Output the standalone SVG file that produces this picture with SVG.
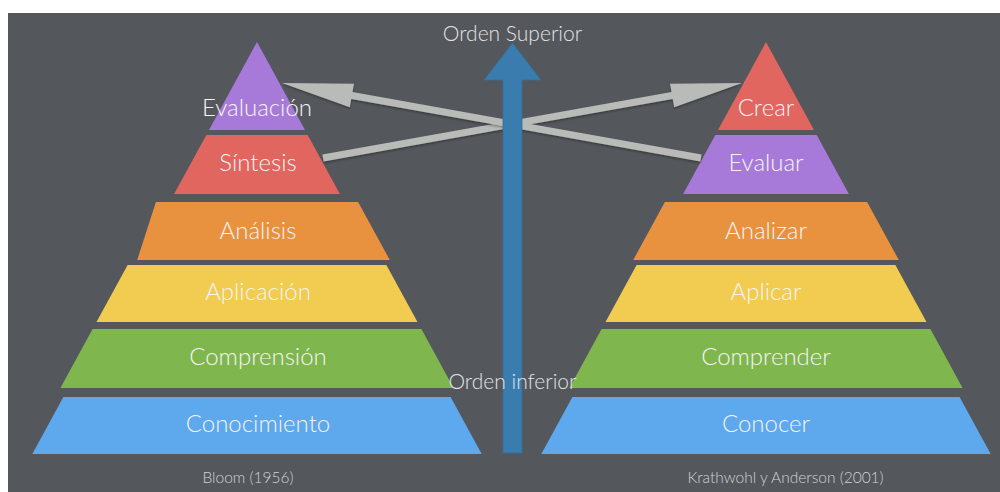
<svg xmlns="http://www.w3.org/2000/svg" width="1000" height="492" viewBox="0 0 1000 492">
  <defs>
    <filter id="sh" x="-10%" y="-50%" width="120%" height="200%">
      <feDropShadow dx="0" dy="1.5" stdDeviation="1" flood-color="#000" flood-opacity="0.35"/>
    </filter>
    <style>
      .lbl { font-family: Lato, "Open Sans", "Liberation Sans", sans-serif; font-weight: 300; font-size: 24px; fill: #f4f4f4; text-anchor: middle; }
      .cap { font-family: Lato, "Open Sans", "Liberation Sans", sans-serif; font-weight: 300; font-size: 15.5px; fill: #d2d3d5; text-anchor: middle; }
      .axis { font-family: Lato, "Open Sans", "Liberation Sans", sans-serif; font-weight: 300; font-size: 21px; fill: #e2e3e5; text-anchor: middle; }
      .purple { fill: #a77ad9; }
      .red { fill: #e0665f; }
      .orange { fill: #e8913f; }
      .yellow { fill: #f1cc50; }
      .green { fill: #80b64e; }
      .blue { fill: #5ea8ee; }
      .gray { fill: #b9bbb9; filter: url(#sh); }
    </style>
  </defs>
  <rect x="0" y="0" width="1000" height="492" fill="#ffffff"/>
  <rect x="8" y="13" width="992" height="479" fill="#54575c"/>

  <!-- Left pyramid: Bloom -->
  <g id="bloom-evaluacion"><polygon class="purple" points="257,42 305,130 209,130"/><text class="lbl" x="257" y="116">Evaluación</text></g>
  <g id="bloom-sintesis"><polygon class="red" points="206.3,135 307.7,135 339.9,194 174.1,194"/><text class="lbl" x="258" y="171">Síntesis</text></g>
  <g id="bloom-analisis"><polygon class="orange" points="155.9,202 358.1,202 389.8,260 137.2,260"/><text class="lbl" x="258" y="239">Análisis</text></g>
  <g id="bloom-aplicacion"><polygon class="yellow" points="127.6,265 386.4,265 417.5,322 96.5,322"/><text class="lbl" x="258" y="300">Aplicación</text></g>
  <g id="bloom-comprension"><polygon class="green" points="92.6,329 421.4,329 453.6,388 60.4,388"/><text class="lbl" x="258" y="365">Comprensión</text></g>
  <g id="bloom-conocimiento"><polygon class="blue" points="63.4,397 450.6,397 481.7,454 32.3,454"/><text class="lbl" x="258" y="432">Conocimiento</text></g>
  <g id="bloom-caption"><text class="cap" x="248" y="483">Bloom (1956)</text></g>

  <!-- Right pyramid: Krathwohl y Anderson -->
  <g id="ka-crear"><polygon class="red" points="766,42 814,130 718,130"/><text class="lbl" x="766" y="116">Crear</text></g>
  <g id="ka-evaluar"><polygon class="purple" points="715.3,135 816.7,135 848.9,194 683.1,194"/><text class="lbl" x="766" y="171">Evaluar</text></g>
  <g id="ka-analizar"><polygon class="orange" points="664.9,202 867.1,202 898.8,260 633.2,260"/><text class="lbl" x="766" y="239">Analizar</text></g>
  <g id="ka-aplicar"><polygon class="yellow" points="636.6,265 895.4,265 926.5,322 605.5,322"/><text class="lbl" x="766" y="300">Aplicar</text></g>
  <g id="ka-comprender"><polygon class="green" points="601.6,329 930.4,329 962.6,388 569.4,388"/><text class="lbl" x="766" y="365">Comprender</text></g>
  <g id="ka-conocer"><polygon class="blue" points="572.4,397 959.6,397 990.7,454 541.3,454"/><text class="lbl" x="766" y="432">Conocer</text></g>
  <g id="ka-caption"><text class="cap" x="785.5" y="483">Krathwohl y Anderson (2001)</text></g>

  <!-- Connectors -->
  <g id="connectors">
    <polygon class="gray" points="322.4,154.6 671.5,92.1 670,83.7 742,83 674.2,107.3 672.7,98.9 323.6,161.4"/>
    <polygon class="gray" points="701.6,154.6 352.5,92.1 354,83.7 282,83 349.8,107.3 351.3,98.9 700.4,161.4"/>
    <polygon fill="#3a7cad" stroke="#336f9c" stroke-width="0.8" points="503,453 503,80 484,80 512.5,43 541,80 522,80 522,453"/>
  </g>

  <g id="orden-superior"><text class="axis" x="512.5" y="40.5">Orden Superior</text></g>
  <g id="orden-inferior"><text class="axis" x="512.5" y="389">Orden inferior</text></g>
</svg>
